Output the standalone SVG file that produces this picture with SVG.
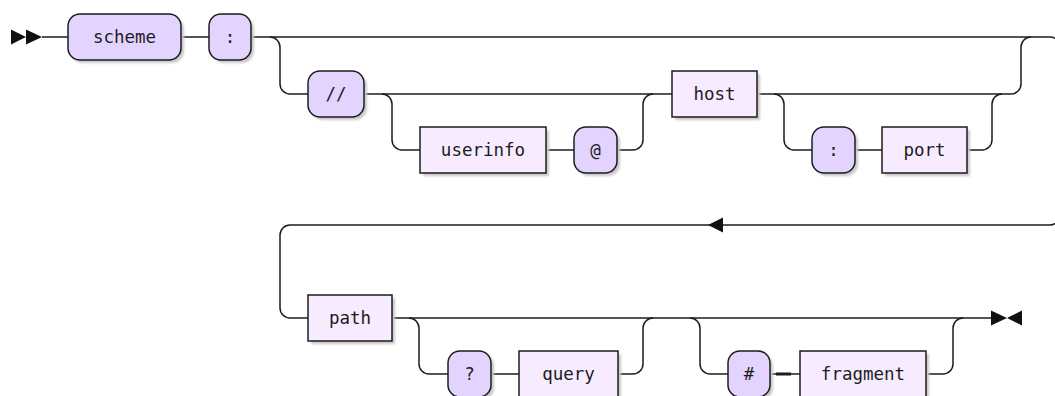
<svg xmlns="http://www.w3.org/2000/svg" width="1055" height="396" viewBox="0 0 1055 396">
  <style>
    .rail { fill: none; stroke: #1c1c1c; stroke-width: 1.5; }
    .head { fill: #111; stroke: none; }
    .shadow { fill: #c9c9c9; }
    .term .box { fill: #e2d4ff; stroke: #1c1c1c; stroke-width: 1.5; }
    .nonterm .box { fill: #f6ebff; stroke: #1c1c1c; stroke-width: 1.5; }
    text { font-family: "DejaVu Sans Mono", "Liberation Mono", monospace; font-size: 17.5px; fill: #1c1c1c; text-anchor: middle; }
  </style>
  <filter id="soft" x="-10%" y="-10%" width="120%" height="120%">
    <feGaussianBlur stdDeviation="0.8"/>
  </filter>
  <rect width="1055" height="396" fill="#ffffff"/>

  <!-- rails -->
  <g id="connectors">
    <!-- first row: scheme ':' and the wide bypass -->
    <path class="rail" d="M42 37 H68 M181 37 H209 M251 37 H1050 a10 10 0 0 1 10 10 V215 a10 10 0 0 1 -10 10 H290 a10 10 0 0 0 -10 10 V308 a10 10 0 0 0 10 10 H308"/>
    <!-- '//' authority branch -->
    <path class="rail" d="M270 37 a10 10 0 0 1 10 10 V84 a10 10 0 0 0 10 10 H308"/>
    <path class="rail" d="M364 94 H672"/>
    <!-- userinfo '@' optional -->
    <path class="rail" d="M382 94 a10 10 0 0 1 10 10 V140 a10 10 0 0 0 10 10 H420 M546 150 H574 M617 150 H633 a10 10 0 0 0 10 -10 V104 a10 10 0 0 1 10 -10"/>
    <!-- host and ':' port optional -->
    <path class="rail" d="M757 94 H1011 a10 10 0 0 0 10 -10 V47 a10 10 0 0 1 10 -10"/>
    <path class="rail" d="M774 94 a10 10 0 0 1 10 10 V140 a10 10 0 0 0 10 10 H812 M855 150 H882 M967 150 H982 a10 10 0 0 0 10 -10 V104 a10 10 0 0 1 10 -10"/>
    <!-- second row: path, '?' query, '#' fragment -->
    <path class="rail" d="M392 318 H993"/>
    <path class="rail" d="M409 318 a10 10 0 0 1 10 10 V364 a10 10 0 0 0 10 10 H448 M491 374 H519 M618 374 H633 a10 10 0 0 0 10 -10 V328 a10 10 0 0 1 10 -10"/>
    <path class="rail" d="M690 318 a10 10 0 0 1 10 10 V364 a10 10 0 0 0 10 10 H728 M770 374 H800 M926 374 H943 a10 10 0 0 0 10 -10 V328 a10 10 0 0 1 10 -10"/>
    <path class="rail" d="M776 374 H791" style="stroke-width:3"/>
    <!-- start, return and end arrowheads -->
    <path class="head" d="M11 29.5 L26 37 L11 44.5 Z M26 29.5 L42 37 L26 44.5 Z"/>
    <path class="head" d="M708 225 L723 217.5 L723 232.5 Z"/>
    <path class="head" d="M991 310.5 L1007 318 L991 325.5 Z M1022 310.5 L1007 318 L1022 325.5 Z"/>
  </g>

  <g id="scheme" class="term">
    <rect class="shadow" x="71" y="17" width="113" height="46" rx="12" filter="url(#soft)"/>
    <rect class="box" x="68" y="14" width="113" height="46" rx="12"/>
    <text x="124.5" y="42.5">scheme</text>
  </g>
  <g id="colon" class="term">
    <rect class="shadow" x="212" y="17" width="42" height="46" rx="12" filter="url(#soft)"/>
    <rect class="box" x="209" y="14" width="42" height="46" rx="12"/>
    <text x="230" y="42.5">:</text>
  </g>
  <g id="slashes" class="term">
    <rect class="shadow" x="311" y="74" width="56" height="46" rx="12" filter="url(#soft)"/>
    <rect class="box" x="308" y="71" width="56" height="46" rx="12"/>
    <text x="336" y="99.5">//</text>
  </g>
  <g id="userinfo" class="nonterm">
    <rect class="shadow" x="423" y="130" width="126" height="46" filter="url(#soft)"/>
    <rect class="box" x="420" y="127" width="126" height="46"/>
    <text x="483" y="155.5">userinfo</text>
  </g>
  <g id="at" class="term">
    <rect class="shadow" x="577" y="130" width="43" height="46" rx="12" filter="url(#soft)"/>
    <rect class="box" x="574" y="127" width="43" height="46" rx="12"/>
    <text x="595.5" y="155.5">@</text>
  </g>
  <g id="host" class="nonterm">
    <rect class="shadow" x="675" y="74" width="85" height="46" filter="url(#soft)"/>
    <rect class="box" x="672" y="71" width="85" height="46"/>
    <text x="714.5" y="99.5">host</text>
  </g>
  <g id="port-colon" class="term">
    <rect class="shadow" x="815" y="130" width="43" height="46" rx="12" filter="url(#soft)"/>
    <rect class="box" x="812" y="127" width="43" height="46" rx="12"/>
    <text x="833.5" y="155.5">:</text>
  </g>
  <g id="port" class="nonterm">
    <rect class="shadow" x="885" y="130" width="85" height="46" filter="url(#soft)"/>
    <rect class="box" x="882" y="127" width="85" height="46"/>
    <text x="924.5" y="155.5">port</text>
  </g>
  <g id="path" class="nonterm">
    <rect class="shadow" x="311" y="298" width="84" height="46" filter="url(#soft)"/>
    <rect class="box" x="308" y="295" width="84" height="46"/>
    <text x="350" y="323.5">path</text>
  </g>
  <g id="question" class="term">
    <rect class="shadow" x="451" y="354" width="43" height="46" rx="12" filter="url(#soft)"/>
    <rect class="box" x="448" y="351" width="43" height="46" rx="12"/>
    <text x="469.5" y="379.5">?</text>
  </g>
  <g id="query" class="nonterm">
    <rect class="shadow" x="522" y="354" width="99" height="46" filter="url(#soft)"/>
    <rect class="box" x="519" y="351" width="99" height="46"/>
    <text x="568.5" y="379.5">query</text>
  </g>
  <g id="hash" class="term">
    <rect class="shadow" x="731" y="354" width="42" height="46" rx="12" filter="url(#soft)"/>
    <rect class="box" x="728" y="351" width="42" height="46" rx="12"/>
    <text x="749" y="379.5">#</text>
  </g>
  <g id="fragment" class="nonterm">
    <rect class="shadow" x="803" y="354" width="126" height="46" filter="url(#soft)"/>
    <rect class="box" x="800" y="351" width="126" height="46"/>
    <text x="863" y="379.5">fragment</text>
  </g>
</svg>
